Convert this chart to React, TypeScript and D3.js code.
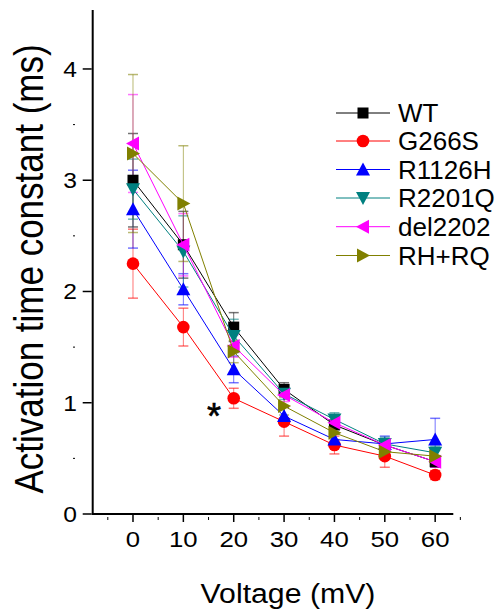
import React from "react";
import * as d3 from "d3";

const voltages = [0, 10, 20, 30, 40, 50, 60];
const seriesNames = ["WT", "G266S", "R1126H", "R2201Q", "del2202", "RH+RQ"];
const wtMean = [3.0, 2.42, 1.68, 1.12, 0.8, 0.62, 0.47];
const wtErr = [0.42, 0.3, 0.13, 0.06, 0.07, 0.05, 0.05];
const g266sMean = [2.25, 1.68, 1.04, 0.83, 0.62, 0.52, 0.35];
const g266sErr = [0.31, 0.17, 0.09, 0.13, 0.08, 0.1, 0.04];
const r1126hMean = [2.74, 2.02, 1.3, 0.88, 0.67, 0.63, 0.67];
const r1126hErr = [0.35, 0.14, 0.12, 0.08, 0.05, 0.07, 0.19];
const r2201qMean = [2.92, 2.36, 1.6, 1.08, 0.85, 0.63, 0.55];
const r2201qErr = [0.27, 0.32, 0.15, 0.05, 0.06, 0.06, 0.06];
const del2202Mean = [3.33, 2.42, 1.51, 1.07, 0.82, 0.62, 0.47];
const del2202Err = [0.44, 0.28, 0.1, 0.06, 0.05, 0.05, 0.05];
const rhrqMean = [3.24, 2.79, 1.46, 0.97, 0.73, 0.56, 0.52];
const rhrqErr = [0.71, 0.52, 0.1, 0.08, 0.06, 0.05, 0.05];
const xTickValues = [0, 10, 20, 30, 40, 50, 60];
const xMinorTicks = [-5, 5, 15, 25, 35, 45, 55, 65];
const yTickValues = [0, 1, 2, 3, 4];
const yMinorTicks = [0.5, 1.5, 2.5, 3.5];

const colors = ["#000000", "#ff0000", "#0000ff", "#008080", "#ff00ff", "#808000"];
const shapes = ["square", "circle", "up", "down", "left", "right"];
const means = [wtMean, g266sMean, r1126hMean, r2201qMean, del2202Mean, rhrqMean];
const errs = [wtErr, g266sErr, r1126hErr, r2201qErr, del2202Err, rhrqErr];

const FONT = "Liberation Sans, Arial, Helvetica, sans-serif";

function Marker({ shape, x, y, color }: { shape: string; x: number; y: number; color: string }) {
  const s = 6;
  if (shape === "square") return <rect x={x - 5.5} y={y - 5.5} width={11} height={11} fill={color} />;
  if (shape === "circle") return <circle cx={x} cy={y} r={6.3} fill={color} />;
  let pts = "";
  const h = 7;
  if (shape === "up") pts = `${x},${y - h} ${x - h},${y + s} ${x + h},${y + s}`;
  if (shape === "down") pts = `${x},${y + h} ${x - h},${y - s} ${x + h},${y - s}`;
  if (shape === "left") pts = `${x - h},${y} ${x + s},${y - h} ${x + s},${y + h}`;
  if (shape === "right") pts = `${x + h},${y} ${x - s},${y - h} ${x - s},${y + h}`;
  return <polygon points={pts} fill={color} />;
}

export default function App() {
  const x = d3.scaleLinear().domain([-8, 63.6]).range([92.7, 453.3]);
  const y = d3.scaleLinear().domain([0, 4.53]).range([514, 10]);
  const line = d3
    .line<number>()
    .x((_, i) => x(voltages[i]))
    .y((d) => y(d));

  const legendY = [113, 141, 169.5, 198, 226.7, 255.5];

  return (
    <svg width={501} height={612} style={{ position: "absolute", left: 0, top: 0, background: "#fff" }} fontFamily={FONT}>
      {/* axes */}
      <line x1={x(-8)} x2={x(63.6)} y1={y(0)} y2={y(0)} stroke="#000" strokeWidth={2} />
      <line x1={x(-8)} x2={x(-8)} y1={y(0) + 1} y2={y(4.53)} stroke="#000" strokeWidth={2} />
      {xTickValues.map((t) => (
        <g key={"xt" + t}>
          <line x1={x(t)} x2={x(t)} y1={y(0)} y2={y(0) + 8} stroke="#000" strokeWidth={1.5} />
          <text transform={`translate(${x(t)},547) scale(1.12,1)`} textAnchor="middle" fontSize={23}>
            {t}
          </text>
        </g>
      ))}
      {xMinorTicks.map((t) => (
        <line key={"xm" + t} x1={x(t)} x2={x(t)} y1={y(0) + 3} y2={y(0) + 6} stroke="#000" strokeWidth={1} />
      ))}
      {yTickValues.map((t) => (
        <g key={"yt" + t}>
          <line x1={x(-8) - 10} x2={x(-8) - 1} y1={y(t)} y2={y(t)} stroke="#000" strokeWidth={1.5} />
          <text transform={`translate(77,${y(t) + 8}) scale(1.12,1)`} textAnchor="end" fontSize={22}>
            {t}
          </text>
        </g>
      ))}
      {yMinorTicks.map((t) => (
        <line key={"ym" + t} x1={73} x2={75} y1={y(t)} y2={y(t)} stroke="#000" strokeWidth={1} />
      ))}

      {/* error bars */}
      {means.map((m, si) => (
        <g key={"e" + si} stroke={colors[si]} strokeOpacity={0.55} strokeWidth={1}>
          {m.map((v, i) => {
            const cx = x(voltages[i]);
            const top = y(v + errs[si][i]);
            const bot = y(v - errs[si][i]);
            return (
              <g key={i}>
                <line x1={cx} x2={cx} y1={top} y2={bot} />
                <line x1={cx - 5} x2={cx + 5} y1={top} y2={top} strokeWidth={1.5} />
                <line x1={cx - 5} x2={cx + 5} y1={bot} y2={bot} strokeWidth={1.5} />
              </g>
            );
          })}
        </g>
      ))}

      {/* lines + markers */}
      {means.map((m, si) => (
        <g key={"s" + si}>
          <path d={line(m) || ""} fill="none" stroke={colors[si]} strokeWidth={1} />
          {m.map((v, i) => (
            <Marker key={i} shape={shapes[si]} x={x(voltages[i])} y={y(v)} color={colors[si]} />
          ))}
        </g>
      ))}

      <text x={214} y={429} textAnchor="middle" fontSize={36} stroke="#000" strokeWidth={0.6}>
        *
      </text>

      {/* legend */}
      {seriesNames.map((n, i) => (
        <g key={"l" + n}>
          <line x1={336} x2={390} y1={legendY[i]} y2={legendY[i]} stroke={colors[i]} strokeWidth={1} />
          <Marker shape={shapes[i]} x={363} y={legendY[i]} color={colors[i]} />
          <text transform={`translate(398,${legendY[i] + 9}) scale(1.04,1)`} fontSize={25}>
            {n}
          </text>
        </g>
      ))}

      {/* titles */}
      <text transform="translate(288,603) scale(1.12,1)" textAnchor="middle" fontSize={27}>
        Voltage (mV)
      </text>
      <text transform="translate(43,269) rotate(-90) scale(1,1.15)" textAnchor="middle" fontSize={35}>
        Activation time constant (ms)
      </text>
    </svg>
  );
}
